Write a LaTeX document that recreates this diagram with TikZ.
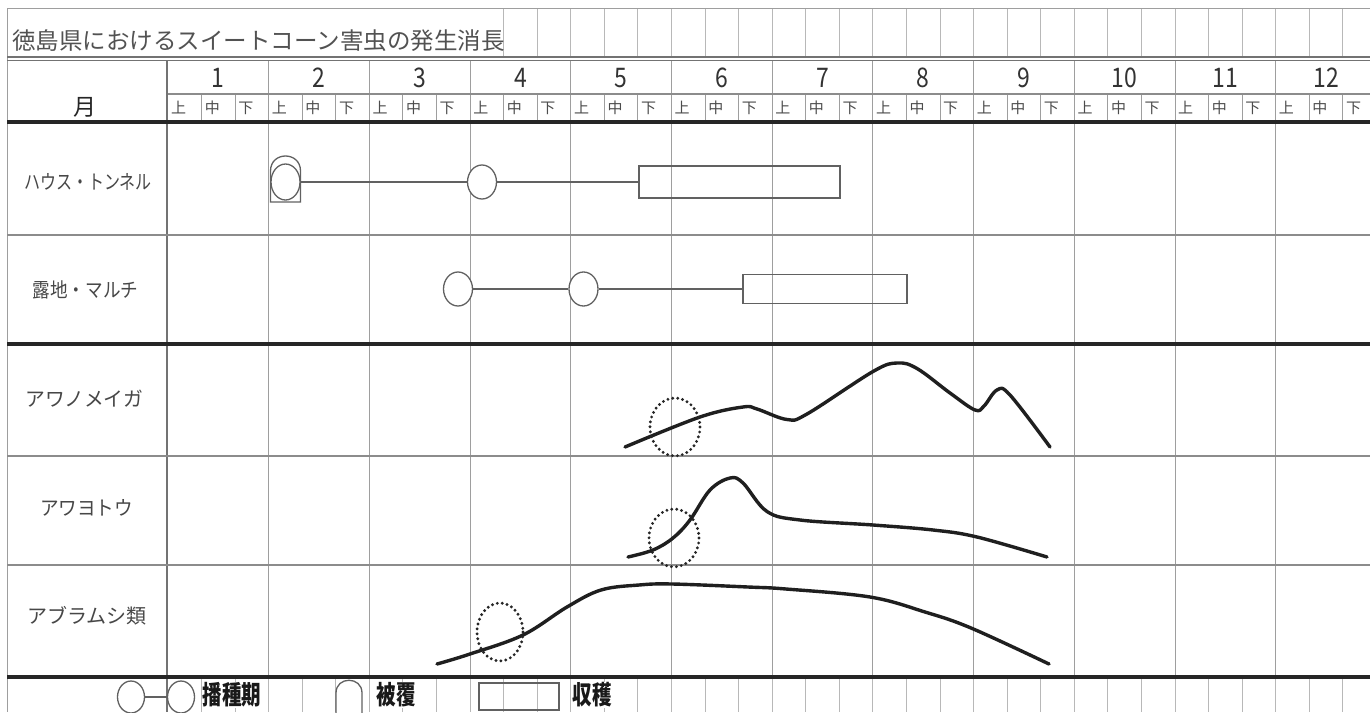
\documentclass[tikz,border=0pt]{standalone}
\usepackage{fontspec}
\setmainfont{Noto Sans CJK JP}
\usetikzlibrary{shapes.geometric}
\begin{document}
\begin{tikzpicture}[x=1pt,y=-1pt,
  gridln/.style={draw=black!38, line width=1pt},
  colln/.style={draw=black!55, line width=1.1pt},
  rulethick/.style={draw=black!85, line width=3.2pt},
  rulethin/.style={draw=black!45, line width=1.1pt},
  pest/.style={draw=black!88, line width=3.4pt, line cap=round, line join=round},
  sow/.style={ellipse, draw=black!62, line width=1.3pt, fill=white, minimum width=29pt, minimum height=34pt, inner sep=0pt},
  harvest/.style={rectangle, draw=black!62, line width=1.3pt, inner sep=0pt},
  conn/.style={draw=black!62, line width=1.3pt},
  dotc/.style={draw=black!85, line width=3.2pt, line cap=round, dash pattern=on 0pt off 5pt},
  lbl/.style={font=\fontsize{20}{20}\selectfont, text=black!72, inner sep=0pt},
  num/.style={font=\fontsize{27}{27}\selectfont, text=black!80, inner sep=0pt},
  subl/.style={font=\fontsize{15}{15}\selectfont, text=black!70, inner sep=0pt, anchor=west},
  legt/.style={font=\bfseries\fontsize{26}{26}\selectfont, text=black!90, fill=white, inner sep=1pt},
]
\useasboundingbox (0,0) rectangle (1370,712);
\fill[white] (0,0) rectangle (1370,712);
% ---- grid ----
\draw[gridln] (7,8) -- (7,712);
\draw[colln] (167,60) -- (167,712);
\foreach \k in {1,...,11} {
  \draw[gridln] ({168+100.7*\k},60) -- ({168+100.7*\k},712);
}
\foreach \j in {1,...,36} {
  \pgfmathsetmacro{\xx}{168+33.567*\j}
  \ifdim\xx pt>495pt
    \draw[gridln, draw=black!28] (\xx,8) -- (\xx,57);
  \fi
  \draw[gridln] (\xx,94) -- (\xx,122);
  \draw[gridln, draw=black!28] (\xx,677) -- (\xx,712);
}
\draw[gridln] (7,8) -- (1370,8);
\draw[draw=black!55, line width=1.5pt] (7,57) -- (1370,57);
\draw[draw=black!55, line width=1.5pt] (7,60.5) -- (1370,60.5);
\draw[rulethin] (168,94) -- (1370,94);
\draw[rulethick] (7,122) -- (1370,122);
\draw[rulethin] (7,235) -- (1370,235);
\draw[rulethick] (7,344) -- (1370,344);
\draw[rulethin] (7,456) -- (1370,456);
\draw[rulethin] (7,565) -- (1370,565);
\draw[rulethick] (7,677) -- (1370,677);
% ---- title ----
\node[anchor=west, font=\fontsize{23.5}{23.5}\selectfont, text=black!68, inner sep=1pt] (title) at (11,40.5) {徳島県におけるスイートコーン害虫の発生消長};
% ---- header ----
\node[font=\fontsize{23}{23}\selectfont, text=black!85, inner sep=0pt] (tsuki) at (85,107) {月};
\foreach \m in {1,...,12} {
  \node[num] (mon\m) at ({168+100.7*(\m-0.5)},78) {\scalebox{0.85}[1]{\m}};
}
\foreach \m in {0,...,11} {
  \foreach \d/\c in {0/上,1/中,2/下} {
    \node[subl] (sub\m\d) at ({168+100.7*\m+33.567*\d+3},108) {\c};
  }
}
% ---- row labels ----
\node[lbl] (r1) at (88,182) {\scalebox{0.8}[1]{ハウス・トンネル}};
\node[lbl] (r2) at (85.5,290) {\scalebox{0.88}[1]{露地・マルチ}};
\node[lbl] (r3) at (84.5,399) {\scalebox{0.99}[1]{アワノメイガ}};
\node[lbl] (r4) at (86.5,508) {\scalebox{0.93}[1]{アワヨトウ}};
\node[lbl] (r5) at (87,616) {\scalebox{1}[1]{アブラムシ類}};
% ---- house / tunnel ----
\draw[draw=black!62, line width=1.3pt, fill=white] (270.5,202) -- (270.5,171) .. controls (270.5,151) and (300.5,151) .. (300.5,171) -- (300.5,202) -- cycle;
\node[sow, minimum height=36pt] (hs1) at (285.5,182) {};
\node[sow] (hs2) at (482,182) {};
\node[harvest, minimum width=201pt, minimum height=32pt] (hh) at (739.5,182) {};
\draw[conn] (hs1) -- (hs2);
\draw[conn] (hs2) -- (hh);
% ---- open field / mulch ----
\node[sow] (os1) at (458,289) {};
\node[sow] (os2) at (583.5,289) {};
\node[harvest, minimum width=164pt, minimum height=29pt] (oh) at (825,289) {};
\draw[conn] (os1) -- (os2);
\draw[conn] (os2) -- (oh);
% ---- pest curves ----
\draw[pest] plot[smooth, tension=0.6] coordinates {(625,447) (700,417) (743,407) (757,409) (787,419.5) (807,414) (873,371.5) (897,363) (917,368.5) (950,393) (975,410) (984,406) (997,390) (1010,395) (1050,447)};
\draw[dotc] (675,427) ellipse [x radius=25, y radius=29];
\draw[pest] plot[smooth, tension=0.6] coordinates {(628,557) (653,550) (673,538) (690,520) (710,490) (730,478) (743,483) (767,511.5) (800,520) (873,525) (933,530) (977,537) (1047,557)};
\draw[dotc] (674,538) ellipse [x radius=25, y radius=29];
\draw[pest] plot[smooth, tension=0.6] coordinates {(437,664) (470,654) (523,635) (567,607) (601,590) (639,585) (672,584) (748,587) (786,589) (870,597) (925,612) (971,628) (1049,664)};
\draw[dotc] (500,632) ellipse [x radius=23, y radius=29];
% ---- legend ----
\node[sow, minimum width=27pt, minimum height=32pt] (ls1) at (131,697) {};
\node[sow, minimum width=27pt, minimum height=32pt] (ls2) at (181,697) {};
\draw[conn] (ls1) -- (ls2);
\node[legt] (lt1) at (232,695) {\scalebox{0.75}[1]{播種期}};
\draw[draw=black!62, line width=1.3pt, fill=white] (336,713) -- (336,693) .. controls (336,676) and (362,676) .. (362,693) -- (362,713);
\node[legt] (lt2) at (396,695) {\scalebox{0.75}[1]{被覆}};
\node[harvest, minimum width=80pt, minimum height=27pt] (lh) at (519,696.5) {};
\node[legt] (lt3) at (592,695) {\scalebox{0.75}[1]{収穫}};
\end{tikzpicture}
\end{document}
